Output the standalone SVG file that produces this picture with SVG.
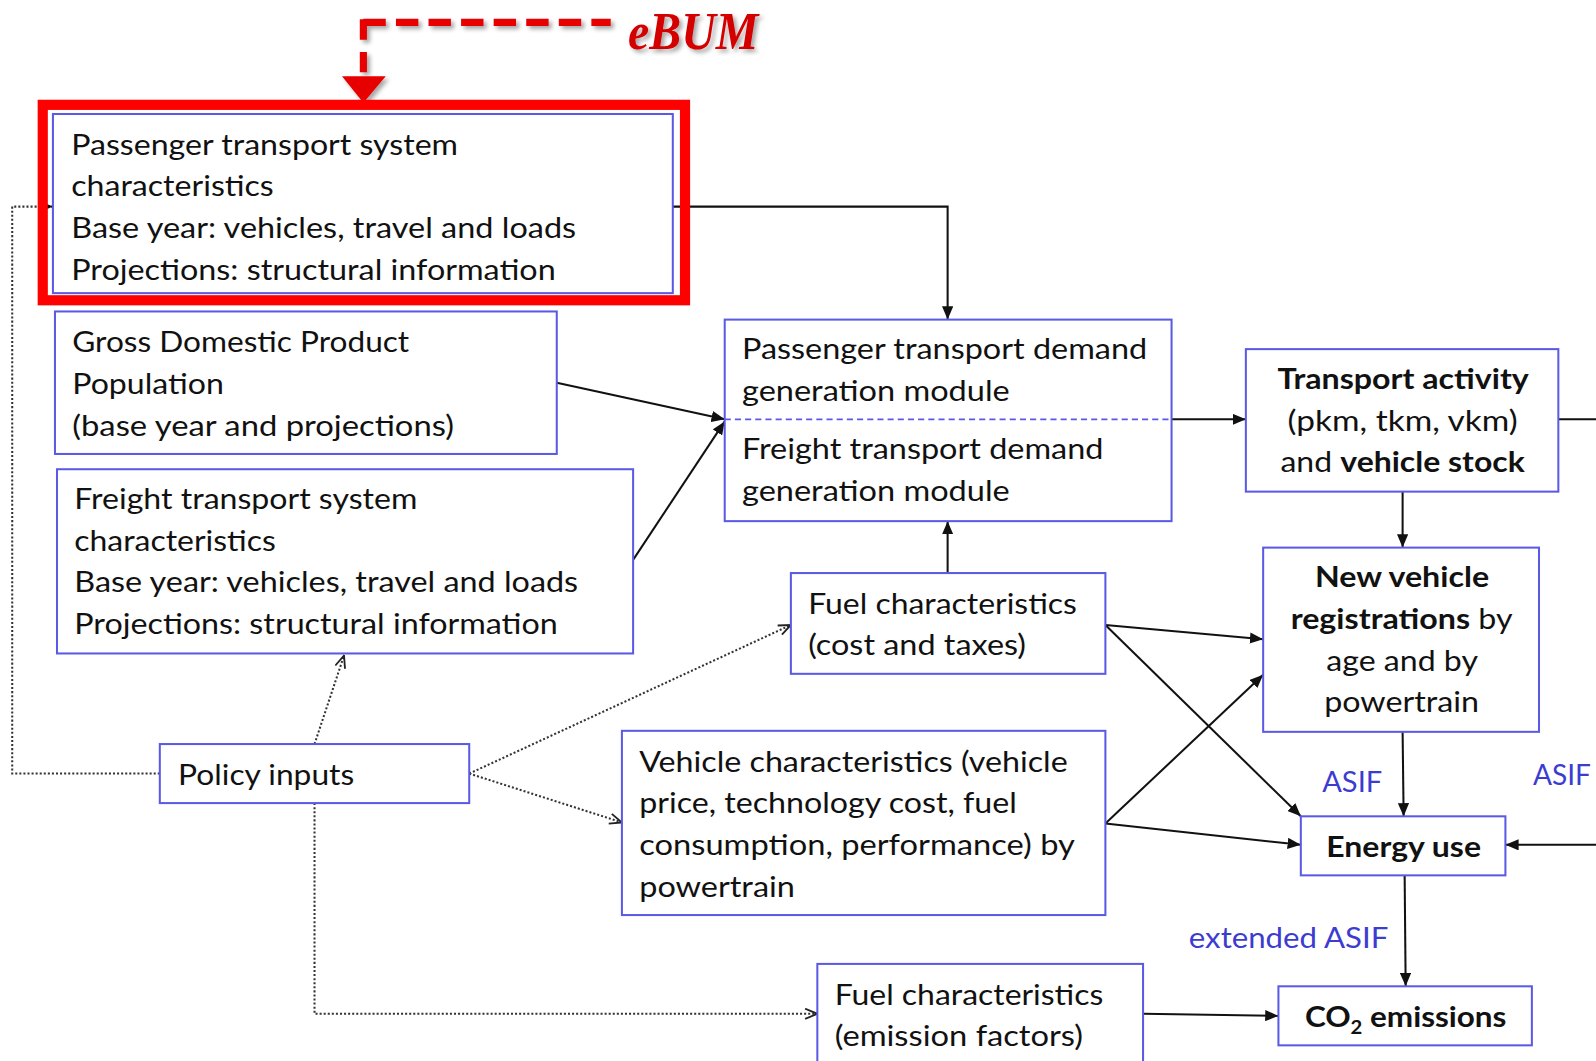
<svg xmlns="http://www.w3.org/2000/svg" width="1596" height="1061" viewBox="0 0 1596 1061">
<style>
  .box{fill:#fff;stroke:#5a5ae6;stroke-width:2}
  .t{font-family:Lato,"Open Sans","Liberation Sans",sans-serif;font-size:28px;fill:#111}
  .b{font-weight:bold}
  .lbl{font-family:Lato,"Open Sans","Liberation Sans",sans-serif;font-size:28px;fill:#3c3cd0}
  .c{fill:none;stroke:#111;stroke-width:2}
  .d{fill:none;stroke:#333;stroke-width:2;stroke-dasharray:2 2}
</style>
<defs>
  <marker id="ah" viewBox="0 0 13 11" refX="13" refY="5.5" markerWidth="13" markerHeight="11" markerUnits="userSpaceOnUse" orient="auto">
    <path d="M0,0 L13,5.5 L0,11 Z" fill="#111"/>
  </marker>
  <marker id="oa" viewBox="0 0 14 12" refX="13" refY="6" markerWidth="14" markerHeight="12" markerUnits="userSpaceOnUse" orient="auto">
    <path d="M1,1 L13,6 L1,11" fill="none" stroke="#222" stroke-width="1.8"/>
  </marker>
  <filter id="sh" x="-20%" y="-20%" width="140%" height="160%">
    <feDropShadow dx="3" dy="3" stdDeviation="2" flood-color="#000" flood-opacity="0.35"/>
  </filter>
</defs>
<rect width="1596" height="1061" fill="#fff"/>
<g transform="scale(1.017857)">
  <g id="connectors">
    <path class="c" d="M661,203 H931 V314" marker-end="url(#ah)"/>
    <path class="c" d="M547,376 L712,412" marker-end="url(#ah)"/>
    <path class="c" d="M622,550 L712,414" marker-end="url(#ah)"/>
    <path class="c" d="M1151,412 H1224" marker-end="url(#ah)"/>
    <path class="c" d="M1531,412 H1600"/>
    <path class="c" d="M1378,483 V538" marker-end="url(#ah)"/>
    <path class="c" d="M931,563 V512" marker-end="url(#ah)"/>
    <path class="c" d="M1086,614 L1241,628" marker-end="url(#ah)"/>
    <path class="c" d="M1086,614 L1278,802" marker-end="url(#ah)"/>
    <path class="c" d="M1086,809 L1241,663" marker-end="url(#ah)"/>
    <path class="c" d="M1086,809 L1278,830" marker-end="url(#ah)"/>
    <path class="c" d="M1378,719 L1379,802" marker-end="url(#ah)"/>
    <path class="c" d="M1600,830 H1479" marker-end="url(#ah)"/>
    <path class="c" d="M1380,860 L1381,969" marker-end="url(#ah)"/>
    <path class="c" d="M1123,996 L1256,998" marker-end="url(#ah)"/>
    <path class="d" d="M157,760 H12 V203 H52" marker-end="url(#ah)"/>
    <path class="d" d="M309,731 L338,644" marker-end="url(#oa)"/>
    <path class="d" d="M461,760 L777,614" marker-end="url(#oa)"/>
    <path class="d" d="M461,760 L611,808" marker-end="url(#oa)"/>
    <path class="d" d="M309,789 V996 H803" marker-end="url(#oa)"/>
  </g>

  <g id="ebum" filter="url(#sh)">
    <path d="M357,22 H600" fill="none" stroke="#e60000" stroke-width="7" stroke-dasharray="22 10"/>
    <path d="M357,19 V76" fill="none" stroke="#e60000" stroke-width="7" stroke-dasharray="20 12"/>
    <path d="M336,75 L379,75 L357,101 Z" fill="#e60000"/>
    <text x="617" y="48" textLength="128" lengthAdjust="spacingAndGlyphs" style="font-family:'Liberation Serif',serif;font-size:52px;font-weight:bold;font-style:italic;fill:#d40000">eBUM</text>
  </g>

  <g id="passenger-system">
    <rect class="box" x="52" y="112" width="609" height="176"/>
    <text class="t" x="70" y="152" textLength="380" lengthAdjust="spacingAndGlyphs">Passenger transport system</text>
    <text class="t" x="70" y="193" textLength="199" lengthAdjust="spacingAndGlyphs">characteristics</text>
    <text class="t" x="70" y="234" textLength="496" lengthAdjust="spacingAndGlyphs">Base year: vehicles, travel and loads</text>
    <text class="t" x="70" y="275" textLength="476" lengthAdjust="spacingAndGlyphs">Projections: structural information</text>
  </g>
  <rect id="ebum-frame" x="42" y="103" width="631" height="192" fill="none" stroke="#ff0000" stroke-width="10"/>

  <g id="gdp">
    <rect class="box" x="54" y="306" width="493" height="140"/>
    <text class="t" x="71" y="346" textLength="331" lengthAdjust="spacingAndGlyphs">Gross Domestic Product</text>
    <text class="t" x="71" y="387" textLength="149" lengthAdjust="spacingAndGlyphs">Population</text>
    <text class="t" x="71" y="428" textLength="375" lengthAdjust="spacingAndGlyphs">(base year and projections)</text>
  </g>

  <g id="freight-system">
    <rect class="box" x="56" y="461" width="566" height="181"/>
    <text class="t" x="73" y="500" textLength="337" lengthAdjust="spacingAndGlyphs">Freight transport system</text>
    <text class="t" x="73" y="541" textLength="198" lengthAdjust="spacingAndGlyphs">characteristics</text>
    <text class="t" x="73" y="582" textLength="495" lengthAdjust="spacingAndGlyphs">Base year: vehicles, travel and loads</text>
    <text class="t" x="73" y="623" textLength="475" lengthAdjust="spacingAndGlyphs">Projections: structural information</text>
  </g>

  <g id="policy">
    <rect class="box" x="157" y="731" width="304" height="58"/>
    <text class="t" x="175" y="771" textLength="173" lengthAdjust="spacingAndGlyphs">Policy inputs</text>
  </g>

  <g id="demand">
    <rect class="box" x="712" y="314" width="439" height="198"/>
    <line x1="712" y1="412" x2="1151" y2="412" stroke="#5a5ae6" stroke-width="1.6" stroke-dasharray="6 4"/>
    <text class="t" x="729" y="353" textLength="398" lengthAdjust="spacingAndGlyphs">Passenger transport demand</text>
    <text class="t" x="729" y="394" textLength="263" lengthAdjust="spacingAndGlyphs">generation module</text>
    <text class="t" x="729" y="451" textLength="355" lengthAdjust="spacingAndGlyphs">Freight transport demand</text>
    <text class="t" x="729" y="492" textLength="263" lengthAdjust="spacingAndGlyphs">generation module</text>
  </g>

  <g id="activity">
    <rect class="box" x="1224" y="343" width="307" height="140"/>
    <text class="t b" x="1255" y="382" textLength="247" lengthAdjust="spacingAndGlyphs">Transport activity</text>
    <text class="t" x="1265" y="423" textLength="226" lengthAdjust="spacingAndGlyphs">(pkm, tkm, vkm)</text>
    <text class="t" x="1258" y="464" textLength="240" lengthAdjust="spacingAndGlyphs">and <tspan class="b">vehicle stock</tspan></text>
  </g>

  <g id="registrations">
    <rect class="box" x="1241" y="538" width="271" height="181"/>
    <text class="t b" x="1292" y="577" textLength="171" lengthAdjust="spacingAndGlyphs">New vehicle</text>
    <text class="t" x="1268" y="618" textLength="218" lengthAdjust="spacingAndGlyphs"><tspan class="b">registrations</tspan> by</text>
    <text class="t" x="1303" y="659" textLength="149" lengthAdjust="spacingAndGlyphs">age and by</text>
    <text class="t" x="1301" y="700" textLength="152" lengthAdjust="spacingAndGlyphs">powertrain</text>
  </g>

  <g id="fuel-cost">
    <rect class="box" x="777" y="563" width="309" height="99"/>
    <text class="t" x="794" y="603" textLength="264" lengthAdjust="spacingAndGlyphs">Fuel characteristics</text>
    <text class="t" x="794" y="644" textLength="214" lengthAdjust="spacingAndGlyphs">(cost and taxes)</text>
  </g>

  <g id="vehicle-char">
    <rect class="box" x="611" y="718" width="475" height="181"/>
    <text class="t" x="628" y="758" textLength="421" lengthAdjust="spacingAndGlyphs">Vehicle characteristics (vehicle</text>
    <text class="t" x="628" y="799" textLength="371" lengthAdjust="spacingAndGlyphs">price, technology cost, fuel</text>
    <text class="t" x="628" y="840" textLength="428" lengthAdjust="spacingAndGlyphs">consumption, performance) by</text>
    <text class="t" x="628" y="881" textLength="153" lengthAdjust="spacingAndGlyphs">powertrain</text>
  </g>

  <g id="energy">
    <rect class="box" x="1278" y="802" width="201" height="58"/>
    <text class="t b" x="1303" y="842" textLength="152" lengthAdjust="spacingAndGlyphs">Energy use</text>
  </g>

  <g id="fuel-emission">
    <rect class="box" x="803" y="947" width="320" height="110"/>
    <text class="t" x="820" y="987" textLength="264" lengthAdjust="spacingAndGlyphs">Fuel characteristics</text>
    <text class="t" x="820" y="1028" textLength="244" lengthAdjust="spacingAndGlyphs">(emission factors)</text>
  </g>

  <g id="co2">
    <rect class="box" x="1256" y="969" width="249" height="58"/>
    <text class="t b" x="1282" y="1009" textLength="198" lengthAdjust="spacingAndGlyphs">CO<tspan dy="7" style="font-size:18px">2</tspan><tspan dy="-7"> emissions</tspan></text>
  </g>

  <g id="labels">
    <text class="lbl" x="1299" y="778" textLength="59" lengthAdjust="spacingAndGlyphs">ASIF</text>
    <text class="lbl" x="1506" y="771" textLength="57" lengthAdjust="spacingAndGlyphs">ASIF</text>
    <text class="lbl" x="1168" y="931" textLength="196" lengthAdjust="spacingAndGlyphs">extended ASIF</text>
  </g>
</g>
</svg>
